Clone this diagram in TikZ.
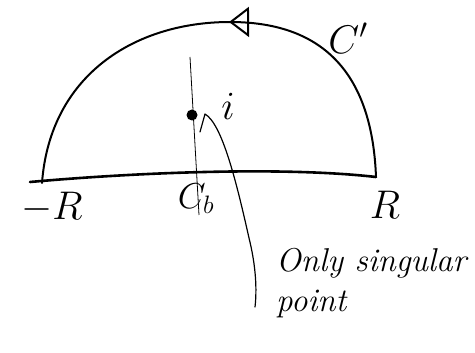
\documentclass[tikz,border=0pt]{standalone}
\usepackage{fix-cm}
\usepackage{amsmath}
\usetikzlibrary{arrows.meta, positioning, decorations.markings, calc}

\begin{document}
\begin{tikzpicture}[
    x=1pt, y=-1pt,
    >=Latex,
    contour/.style={line width=2pt, line cap=round},
    axis/.style={line width=2.6pt, line cap=round},
    guide/.style={line width=0.8pt},
    pointer/.style={line width=1.2pt, line cap=round, line join=round},
    flow/.style={postaction={decorate}, decoration={markings,
        mark=at position 0.47 with {\arrow{Triangle[open, length=20pt, width=30pt]}}}},
    pole/.style={circle, fill, minimum size=11pt, inner sep=0pt},
    big/.style={inner sep=0pt, font=\fontsize{40}{44}\selectfont},
    small/.style={inner sep=0pt, font=\fontsize{36}{40}\selectfont},
    note/.style={inner sep=0pt, align=left, font=\fontsize{33}{40}\selectfont\itshape}
]
\useasboundingbox (0,0) rectangle (475,353);

% End points of the contour
\coordinate (mR) at (42,183);
\coordinate (pR) at (376,177);
\coordinate (axl) at (30,182);

% Real axis and upper half circle
\draw[axis] (axl) .. controls (130,173) and (280,166) .. (pR);
\draw[contour, flow] (pR) .. controls (372,70) and (320,22) .. (230,22)
    .. controls (135,22) and (50,75) .. (mR);

% Imaginary direction and the pole
\coordinate (gtop) at (190,57);
\coordinate (gbot) at (199,215);
\draw[guide] (gtop) -- (gbot);
\node[pole] (dot) at (192,115) {};

% Labels
\node[big] (ilabel) at (228,106) {$i$};
\node[big] (cprime) at (348,38) {$C'$};
\node[big] (minusr) at (52,208) {$-R$};
\node[big] (plusr) at (385,205) {$R$};
\node[small] (cb) at (196,199) {$C_b$};

% Pointer to the note
\node[note, anchor=north west] (note) at (276,248) {Only singular\\point};
\coordinate (tip) at (205,114);
\coordinate (tail) at (255,307);
\draw[pointer] ($(tip)+(-5,18)$) -- (tip) .. controls (222,124) and (236,180) .. (249,238)
    .. controls (256,266) and (257,290) .. (tail);

\end{tikzpicture}
\end{document}
